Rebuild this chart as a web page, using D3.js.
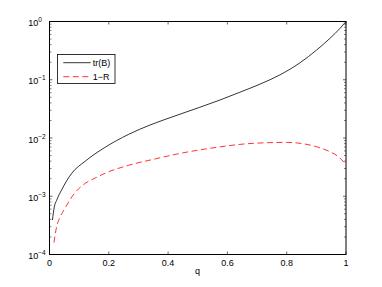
<!DOCTYPE html>
<html>
<head>
<meta charset="utf-8">
<script src="https://cdn.jsdelivr.net/npm/d3@7"></script>
<style>
  body { margin: 0; background: #fff; }
  text { font-family: "Liberation Sans", Arial, Helvetica, sans-serif; }
</style>
</head>
<body>
<svg width="382" height="287"></svg>
<script>
// data
var qTr  = [0.01, 0.016, 0.024, 0.041, 0.075, 0.12, 0.187, 0.266, 0.339, 0.42, 0.507, 0.575, 0.642, 0.71, 0.777, 0.845, 0.901, 0.946, 0.98, 1.0];
var trB  = [3.9e-4, 6.5e-4, 8.5e-4, 1.29e-3, 2.48e-3, 3.98e-3, 6.9e-3, 0.0115, 0.0167, 0.0236, 0.0337, 0.0449, 0.0610, 0.0841, 0.121, 0.196, 0.324, 0.515, 0.764, 1.0];
var qR   = [0.015, 0.024, 0.035, 0.052, 0.069, 0.086, 0.12, 0.153, 0.187, 0.266, 0.356, 0.45, 0.541, 0.687, 0.8, 0.9, 0.946, 0.974, 1.0];
var oneR = [1.6e-4, 3.0e-4, 4.3e-4, 6.2e-4, 8.7e-4, 1.15e-3, 1.66e-3, 2.04e-3, 2.48e-3, 3.39e-3, 4.37e-3, 5.56e-3, 6.65e-3, 8.1e-3, 8.4e-3, 7.1e-3, 5.8e-3, 4.8e-3, 3.5e-3];
var xTicks = [0, 0.2, 0.4, 0.6, 0.8, 1];
var yExp = [0, -1, -2, -3, -4];
var legendNames = ["tr(B)", "1\u2212R"];

var pLeft = 49.5, pRight = 346, pTop = 21.5, pBottom = 254.5;

var svg = d3.select("svg");

var x = d3.scaleLinear().domain([0, 1]).range([pLeft, pRight]);
var y = d3.scaleLog().domain([1e-4, 1]).range([pBottom, pTop]);

// minor ticks for log axis
var minor = [];
for (var e = -4; e < 0; e++) {
  for (var k = 2; k < 10; k++) minor.push(k * Math.pow(10, e));
}

var g = svg.append("g");

// tick marks, inside, on all four sides
xTicks.forEach(function(t) {
  g.append("line").attr("x1", x(t)).attr("x2", x(t)).attr("y1", pBottom).attr("y2", pBottom - 3)
    .attr("stroke", "#000").attr("stroke-width", 0.6);
  g.append("line").attr("x1", x(t)).attr("x2", x(t)).attr("y1", pTop).attr("y2", pTop + 3)
    .attr("stroke", "#000").attr("stroke-width", 0.6);
  g.append("text").attr("x", x(t)).attr("y", 266).attr("text-anchor", "middle")
    .attr("font-size", 9).text(d3.format("")(t));
});

yExp.forEach(function(e) {
  var v = Math.pow(10, e);
  g.append("line").attr("x1", pLeft).attr("x2", pLeft + 3).attr("y1", y(v)).attr("y2", y(v))
    .attr("stroke", "#000").attr("stroke-width", 0.6);
  g.append("line").attr("x1", pRight).attr("x2", pRight - 3).attr("y1", y(v)).attr("y2", y(v))
    .attr("stroke", "#000").attr("stroke-width", 0.6);
  var t = g.append("text").attr("x", 28.3).attr("y", y(v) + 4.5).attr("font-size", 9);
  t.append("tspan").text("10");
  t.append("tspan").attr("dy", -4).attr("font-size", 6.5).text(e < 0 ? "\u2212" + (-e) : String(e));
});

minor.forEach(function(v) {
  g.append("line").attr("x1", pLeft).attr("x2", pLeft + 2).attr("y1", y(v)).attr("y2", y(v))
    .attr("stroke", "#000").attr("stroke-width", 0.5);
  g.append("line").attr("x1", pRight).attr("x2", pRight - 2).attr("y1", y(v)).attr("y2", y(v))
    .attr("stroke", "#000").attr("stroke-width", 0.5);
});

// curves
var line = d3.line()
  .x(function(d) { return x(d[0]); })
  .y(function(d) { return y(d[1]); })
  .curve(d3.curveMonotoneX);

svg.append("path").datum(d3.zip(qTr, trB)).attr("d", line)
  .attr("fill", "none").attr("stroke", "#000").attr("stroke-width", 0.8);

svg.append("path").datum(d3.zip(qR, oneR)).attr("d", line)
  .attr("fill", "none").attr("stroke", "#ff0000").attr("stroke-width", 0.8)
  .attr("stroke-dasharray", "6,3.5");

// frame
svg.append("rect").attr("x", pLeft).attr("y", pTop).attr("width", pRight - pLeft).attr("height", pBottom - pTop)
  .attr("fill", "none").attr("stroke", "#000").attr("stroke-width", 1);

// x label
svg.append("text").attr("x", 197.5).attr("y", 274).attr("text-anchor", "middle")
  .attr("font-size", 9).text("q");

// legend
var leg = svg.append("g");
leg.append("rect").attr("x", 57.5).attr("y", 54.5).attr("width", 57.5).attr("height", 29)
  .attr("fill", "#fff").attr("stroke", "#000").attr("stroke-width", 0.8);
var legStroke = ["#000", "#ff0000"];
var legDash = [null, "6,3.5"];
legendNames.forEach(function(name, i) {
  var ly = 62.7 + i * 14;
  leg.append("line").attr("x1", 63.3).attr("x2", 90.7).attr("y1", ly).attr("y2", ly)
    .attr("stroke", legStroke[i]).attr("stroke-width", 0.8).attr("stroke-dasharray", legDash[i]);
  leg.append("text").attr("x", 92.7).attr("y", ly + 3.3).attr("font-size", 9).text(name);
});
</script>
</body>
</html>
